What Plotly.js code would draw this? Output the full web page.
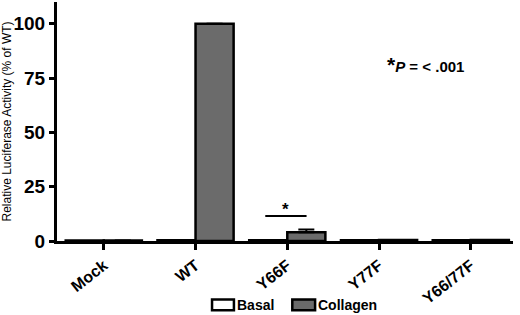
<!DOCTYPE html>
<html>
<head>
<meta charset="utf-8">
<script src="https://cdn.plot.ly/plotly-3.0.1.min.js"></script>
<style>html,body{margin:0;padding:0;background:#fff;}</style>
</head>
<body>
<div id="chart" style="width:520px;height:315px;"></div>
<script>
var categories = ["Mock", "WT", "Y66F", "Y77F", "Y66/77F"];
var seriesNames = ["Basal", "Collagen"];
var basalValues = [0.2, 0.4, 0.4, 0.4, 0.4];
var collagenValues = [0.2, 100, 4, 0.5, 0.5];
var collagenErrors = [0, 0, 1.3, 0, 0];
var yTicks = [0, 25, 50, 75, 100];

var F = "Liberation Sans, Arial, sans-serif";
var colors = ["#ffffff", "#6b6b6b"];

var traces = [
  {
    type: "bar", name: seriesNames[0], x: categories, y: basalValues, showlegend: false,
    marker: {color: colors[0], line: {color: "#000", width: 2.5}}
  },
  {
    type: "bar", name: seriesNames[1], x: categories, y: collagenValues, showlegend: false,
    marker: {color: colors[1], line: {color: "#000", width: 2.5}},
    error_y: {type: "data", array: collagenErrors, visible: true, color: "#000", thickness: 2, width: 8, symmetric: false, arrayminus: [0,0,0,0,0]}
  }
];

// legend drawn as paper-referenced boxes + labels
var legendBoxes = [[0.340, 0.388], [0.516, 0.566]];
var legendShapes = legendBoxes.map(function (b, i) {
  return {type: "rect", xref: "paper", yref: "paper", x0: b[0], x1: b[1], y0: -0.290, y1: -0.245,
    fillcolor: colors[i], line: {color: "#000", width: 2.5}};
});
var legendLabels = legendBoxes.map(function (b, i) {
  return {xref: "paper", yref: "paper", x: b[1] + 0.003, y: -0.267, xanchor: "left", yanchor: "middle",
    showarrow: false, text: "<b>" + seriesNames[i] + "</b>", font: {family: F, size: 14, color: "#000"}};
});

var layout = {
  width: 520, height: 315,
  margin: {l: 57, r: 7, t: 2, b: 74, autoexpand: false},
  paper_bgcolor: "#fff", plot_bgcolor: "#fff",
  barmode: "group", bargap: 0.17, bargroupgap: 0,
  showlegend: false,
  xaxis: {
    automargin: false,
    range: [-0.51, 4.46], showline: true, linecolor: "#000", linewidth: 3,
    ticks: "outside", ticklen: 6, tickwidth: 3, tickcolor: "#000",
    tickangle: -38, showgrid: false, zeroline: false,
    tickfont: {family: F, size: 16, color: "#000", weight: "bold"}
  },
  yaxis: {
    automargin: false,
    range: [0, 110], tickvals: yTicks, showline: true, linecolor: "#000", linewidth: 3,
    ticks: "outside", ticklen: 5, tickwidth: 3, tickcolor: "#000",
    showgrid: false, zeroline: false,
    tickfont: {family: F, size: 19, color: "#000", weight: "bold"},
    title: {text: "Relative Luciferase Activity (% of WT)", font: {family: F, size: 12, color: "#000"}, standoff: 4}
  },
  shapes: [
    {type: "line", xref: "x", yref: "y", x0: 1.76, x1: 2.21, y0: 11.5, y1: 11.5, line: {color: "#000", width: 2}}
  ].concat(legendShapes),
  annotations: [
    {xref: "x", yref: "y", x: 1.98, y: 9, yanchor: "bottom", showarrow: false, text: "<b>*</b>",
      font: {family: F, size: 17, color: "#000"}},
    {xref: "paper", yref: "paper", x: 0.72, y: 0.74, xanchor: "left", yanchor: "middle", showarrow: false,
      text: "<b><span style='font-size:21px'>*</span><i>P</i> = &lt; .001</b>",
      font: {family: F, size: 15, color: "#000"}}
  ].concat(legendLabels)
};

Plotly.newPlot("chart", traces, layout, {displayModeBar: false, staticPlot: true});
</script>
</body>
</html>
